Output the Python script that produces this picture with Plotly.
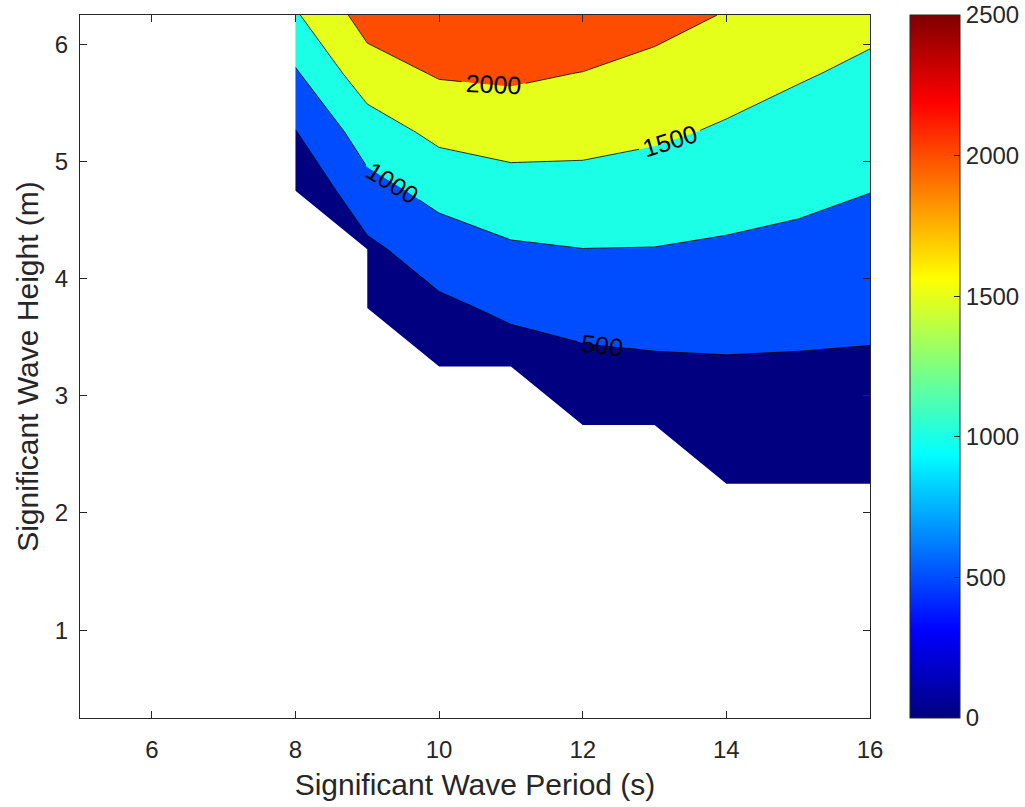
import plotly.graph_objects as go

# Grid (MATLAB-style power matrix): periods (s) and significant wave heights (m)
periods = [5, 6, 7, 8, 9, 10, 11, 12, 13, 14, 15, 16]
heights = [0.25, 0.75, 1.25, 1.75, 2.25, 2.75, 3.25, 3.75, 4.25, 4.75, 5.25, 5.75, 6.25]

N = None
# Power (kW) per period column, from H=0.25 (first) to H=6.25 (last)
P_T5  = [N, N, N, N, N, N, N, N, N, N, N, N, N]
P_T6  = [N, N, N, N, N, N, N, N, N, N, N, N, N]
P_T7  = [N, N, N, N, N, N, N, N, N, N, N, N, N]
P_T8  = [N, N, N, N, N, N, N, N, N, 50, 480, 945, 1450]
P_T9  = [N, N, N, N, N, N, N, 180, 392, 842, 1237, 1785, 2198]
P_T10 = [N, N, N, N, N, N, 200, 393, 775, 1138, 1627, 2041, 2350]
P_T11 = [N, N, N, N, N, N, 243, 600, 955, 1236, 1786, 2060, 2350]
P_T12 = [N, N, N, N, N, 200, 373, 690, 995, 1330, 1657, 1990, 2300]
P_T13 = [N, N, N, N, N, 250, 425, 713, 990, 1240, 1582, 1866, 2157]
P_T14 = [N, N, N, N, 200, 300, 450, 700, 940, 1190, 1440, 1706, 1977]
P_T15 = [N, N, N, N, 200, 300, 443, 663, 886, 1106, 1322, 1540, 1757]
P_T16 = [N, N, N, N, 200, 300, 431, 623, 815, 1008, 1211, 1415, 1617]

columns = [P_T5, P_T6, P_T7, P_T8, P_T9, P_T10, P_T11, P_T12, P_T13, P_T14, P_T15, P_T16]

levels = [0, 500, 1000, 1500, 2000, 2500]
cbar_ticks = [0, 500, 1000, 1500, 2000, 2500]
x_ticks = [6, 8, 10, 12, 14, 16]
y_ticks = [1, 2, 3, 4, 5, 6]

# z[row=height][col=period]
z = [[columns[j][i] for j in range(len(periods))] for i in range(len(heights))]

# MATLAB jet colormap
jet = [[0.0, "rgb(0,0,128)"], [0.125, "rgb(0,0,255)"], [0.375, "rgb(0,255,255)"],
       [0.625, "rgb(255,255,0)"], [0.875, "rgb(255,0,0)"], [1.0, "rgb(128,0,0)"]]

# Fill colours of bands (jet evaluated at lower level of each band, MATLAB contourf style)
band_colors = ["rgb(0,0,128)", "rgb(0,77,255)", "rgb(26,255,230)",
               "rgb(230,255,26)", "rgb(255,77,0)", "rgb(128,0,0)"]
# stepped colour scale; plotly colours each band at its mid value, which maps to k/6
edges = [0.0, 0.25, 5 / 12, 7 / 12, 0.75, 11 / 12, 1.0]
step_scale = []
for k, c in enumerate(band_colors):
    step_scale.append([edges[k], c])
    step_scale.append([edges[k + 1], c])

fig = go.Figure()
fig.add_trace(go.Contour(
    x=periods, y=heights, z=z,
    autocontour=False,
    contours=dict(start=levels[0], end=levels[-1], size=levels[1] - levels[0],
                  coloring="fill", showlabels=True,
                  labelfont=dict(size=25, color="black", family="Liberation Sans, Arial")),
    colorscale=step_scale, showscale=False,
    line=dict(color="black", width=0.8, smoothing=0),
    hoverinfo="skip",
))

# White mask over the region where the matrix has no data (derived from the data)
dy = heights[1] - heights[0]
lowest = []
for j, col in enumerate(columns):
    idx = next((i for i, v in enumerate(col) if v is not None), None)
    lowest.append(idx)
valid_cols = [j for j, v in enumerate(lowest) if v is not None]
j0 = valid_cols[0]
mx = [periods[0], periods[j0], periods[j0]]
my = [heights[-1], heights[-1], heights[lowest[j0]]]
for j in valid_cols[1:]:
    prev = lowest[j - 1]
    cur = lowest[j]
    if cur < prev:
        mx.append(periods[j]); my.append(heights[prev] - dy)
        if heights[cur] != heights[prev] - dy:
            mx.append(periods[j]); my.append(heights[cur])
    else:
        mx.append(periods[j]); my.append(heights[cur])
mx += [periods[-1], periods[0], periods[0]]
my += [heights[0], heights[0], heights[-1]]
fig.add_trace(go.Scatter(x=mx, y=my, mode="lines", fill="toself",
                         fillcolor="white", line=dict(width=0, color="white"),
                         hoverinfo="skip", showlegend=False))

# Continuous jet colour bar
fig.add_trace(go.Scatter(
    x=[None], y=[None], mode="markers", showlegend=False, hoverinfo="skip",
    marker=dict(color=[0], cmin=cbar_ticks[0], cmax=cbar_ticks[-1], colorscale=jet,
                showscale=True,
                colorbar=dict(x=1.0506, xanchor="left", y=0, yanchor="bottom",
                              len=1, lenmode="fraction", thickness=50, thicknessmode="pixels",
                              xpad=0, ypad=0,
                              outlinewidth=1, outlinecolor="#262626",
                              tickvals=cbar_ticks, ticks="inside", ticklen=6,
                              tickcolor="#262626", ticklabeloverflow="allow",
                              tickfont=dict(size=24, color="#262626",
                                            family="Liberation Sans, Arial"))),
))

axis_font = dict(size=24, color="#262626", family="Liberation Sans, Arial")
title_font = dict(size=30, color="#262626", family="Liberation Sans, Arial")
fig.update_xaxes(range=[periods[0], periods[-1]], tickvals=x_ticks, ticks="inside",
                 ticklen=7, tickcolor="#262626", showline=True, linecolor="#262626",
                 linewidth=1, mirror="ticks", showgrid=False, zeroline=False,
                 tickfont=axis_font, ticklabelstandoff=10, automargin=False,
                 title=dict(text="Significant Wave Period (s)", font=title_font, standoff=12))
fig.update_yaxes(range=[heights[0], heights[-1]], tickvals=y_ticks, ticks="inside",
                 ticklen=7, tickcolor="#262626", showline=True, linecolor="#262626",
                 linewidth=1, mirror="ticks", showgrid=False, zeroline=False,
                 tickfont=axis_font, ticklabelstandoff=6, automargin=False,
                 title=dict(text="Significant Wave Height (m)", font=title_font, standoff=7))
fig.update_layout(width=1025, height=807,
                  margin=dict(l=80, r=155, t=15, b=89, autoexpand=False),
                  plot_bgcolor="white", paper_bgcolor="white", showlegend=False,
                  hovermode=False)

# remove the default 8px page margin so the figure fills the window exactly
fig.write_html("out.html", config={"displayModeBar": False},
               post_script="document.body.style.margin='0';")
